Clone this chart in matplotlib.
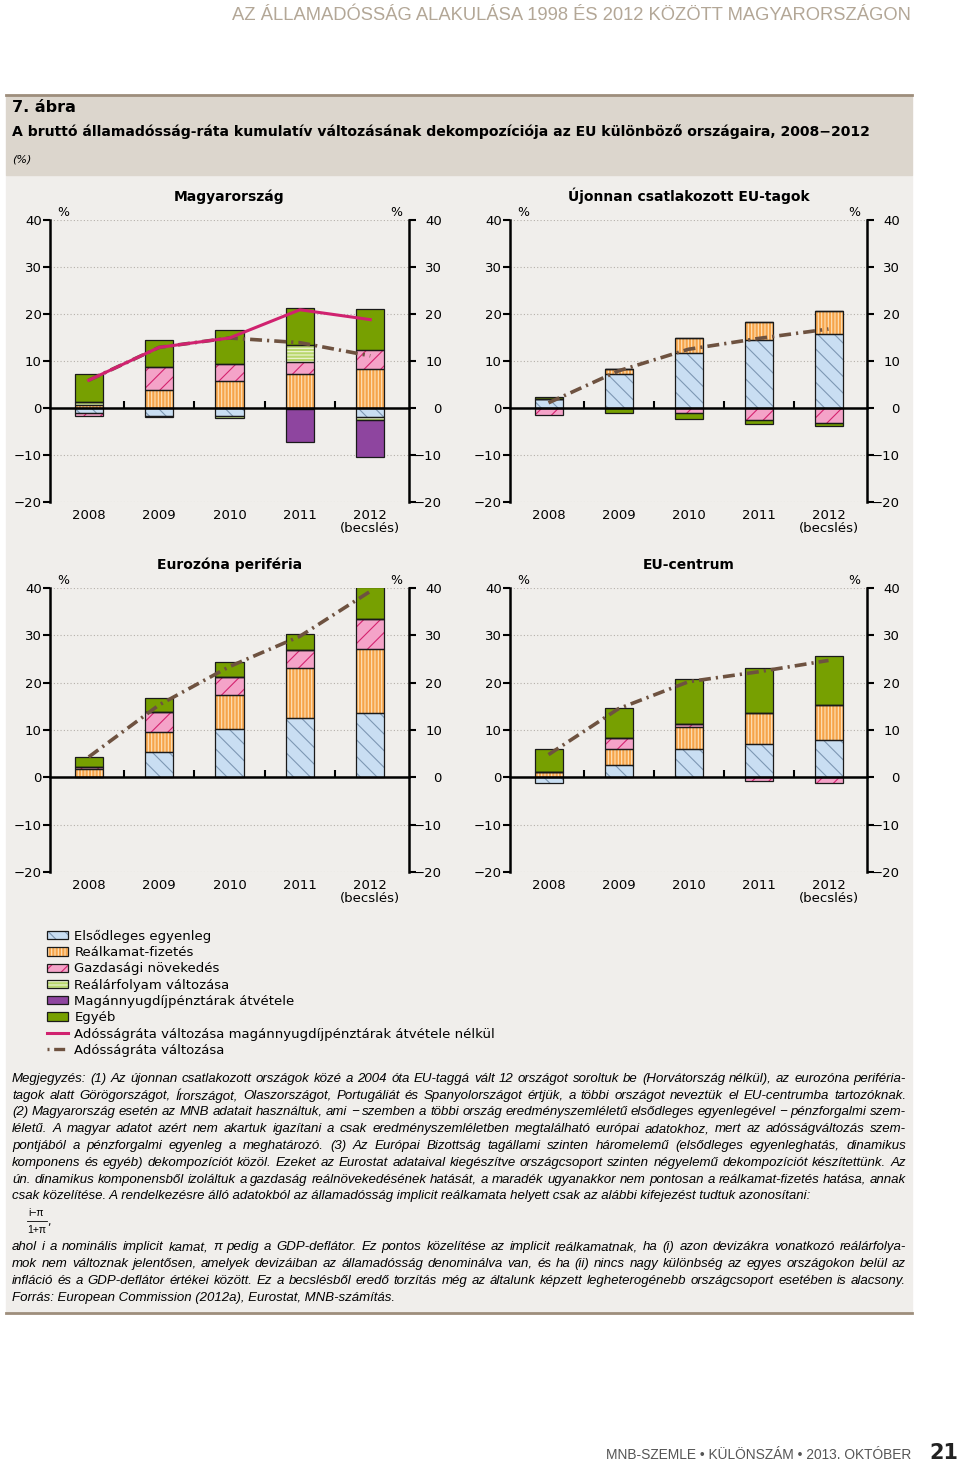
import matplotlib.pyplot as plt
from matplotlib.patches import Rectangle, Patch
from matplotlib.lines import Line2D
from matplotlib.legend_handler import HandlerTuple
from matplotlib.transforms import blended_transform_factory, ScaledTranslation

plt.rcParams['font.family'] = ['DejaVu Sans']
plt.rcParams['hatch.linewidth'] = 0.8

W, H = 960, 1465

years = ['2008', '2009', '2010', '2011', '2012\n(becslés)']

# Magyarország
hu_elsodleges = [-1.0, -1.6, -1.8, -0.3, -1.9]
hu_realkamat = [0.7, 3.9, 5.7, 7.3, 8.4]
hu_novekedes = [-0.6, 4.8, 3.7, 2.4, 3.9]
hu_arfolyam = [0.5, -0.3, -0.3, 3.6, -0.6]
hu_magan = [0.0, 0.0, 0.0, -6.9, -8.0]
hu_egyeb = [6.0, 5.8, 7.2, 7.9, 8.7]
hu_adossag_nelkul = [5.9, 12.9, 14.9, 20.9, 18.8]
hu_adossag = [5.9, 12.9, 14.9, 13.9, 11.1]

# Újonnan csatlakozott EU-tagok
uj_elsodleges = [1.9, 7.3, 11.8, 14.5, 15.7]
uj_realkamat = [0.0, 1.1, 3.1, 3.7, 4.9]
uj_novekedes = [-1.4, 0.0, -1.0, -2.6, -3.1]
uj_arfolyam = [0, 0, 0, 0, 0]
uj_magan = [0, 0, 0, 0, 0]
uj_egyeb = [0.5, -1.1, -1.3, -0.9, -0.8]
uj_adossag = [1.1, 7.9, 12.5, 14.8, 16.8]

# Eurozóna periféria
pe_elsodleges = [0.0, 5.4, 10.2, 12.6, 13.5]
pe_realkamat = [1.8, 4.1, 7.1, 10.4, 13.6]
pe_novekedes = [0.4, 4.2, 3.9, 3.9, 6.3]
pe_arfolyam = [0, 0, 0, 0, 0]
pe_magan = [0, 0, 0, 0, 0]
pe_egyeb = [2.1, 3.1, 3.1, 3.4, 6.9]
pe_adossag = [4.3, 15.3, 23.4, 29.8, 39.3]

# EU-centrum
ce_elsodleges = [-1.3, 2.6, 6.0, 7.1, 7.8]
ce_realkamat = [1.2, 3.4, 4.6, 6.4, 7.4]
ce_novekedes = [0.0, 2.3, 0.7, -0.8, -1.2]
ce_arfolyam = [0, 0, 0, 0, 0]
ce_magan = [0, 0, 0, 0, 0]
ce_egyeb = [4.8, 6.4, 9.4, 9.6, 10.5]
ce_adossag = [4.8, 14.5, 20.2, 22.3, 24.7]

# stilusok: (felirat, kitoltes, vonalkazas szine, vonalkazas)
komponensek = [
    ('Elsődleges egyenleg', '#c9def2', '#7d97b3', '\\\\'),
    ('Reálkamat-fizetés', '#f6a44a', '#fde2bb', '|||||'),
    ('Gazdasági növekedés', '#f4a3c8', '#d4236f', '//'),
    ('Reálárfolyam változása', '#b8d76c', '#f1f6d8', '-----'),
    ('Magánnyugdíjpénztárak átvétele', '#8e459f', None, None),
    ('Egyéb', '#77a001', None, None),
]
magenta = '#d0226f'
barna = '#6e5240'
dashdot = (0, (3.3, 1.4, 0.6, 1.4))

bg = '#f0eeeb'
keskeny = ['Liberation Sans', 'DejaVu Sans']

fig = plt.figure(figsize=(9.6, 14.65), dpi=100)
fig.patch.set_facecolor('white')


def fx(x):
    return x / W


def fy(y):
    return 1 - y / H


# hatter es keret
fig.patches.append(Rectangle((fx(6), fy(1313)), fx(906), (1313 - 175) / H,
                             transform=fig.transFigure, color=bg, zorder=-10))
fig.patches.append(Rectangle((fx(6), fy(175)), fx(906), 80 / H,
                             transform=fig.transFigure, color='#dcd6cd', zorder=-10))
fig.lines.append(Line2D([fx(6), fx(912)], [fy(95), fy(95)], transform=fig.transFigure,
                        color='#9e8e7c', lw=2))
fig.lines.append(Line2D([fx(6), fx(912)], [fy(1313), fy(1313)], transform=fig.transFigure,
                        color='#9e8e7c', lw=2))

fig.text(fx(911), fy(15), 'AZ ÁLLAMADÓSSÁG ALAKULÁSA 1998 ÉS 2012 KÖZÖTT MAGYARORSZÁGON',
         ha='right', va='center', fontsize=13.2, color='#b3a797', family=keskeny)
fig.text(fx(12), fy(108), '7. ábra', ha='left', va='center', fontsize=11.5, fontweight='bold')
fig.text(fx(12), fy(132), 'A bruttó államadósság-ráta kumulatív változásának dekompozíciója az EU különböző országaira, 2008−2012',
         ha='left', va='center', fontsize=10.05, fontweight='bold')
fig.text(fx(12), fy(160), '(%)', ha='left', va='center', fontsize=8, style='italic')


def panel(rect, cim, ertekek, vonal, vonal2=None):
    ax = fig.add_axes(rect)
    ax.set_facecolor(bg)
    x = range(5)
    pos = [0.0] * 5
    neg = [0.0] * 5
    for (nev, szin, hszin, hatch), vals in zip(komponensek, ertekek):
        bottoms = []
        for i, v in enumerate(vals):
            if v >= 0:
                bottoms.append(pos[i])
                pos[i] += v
            else:
                bottoms.append(neg[i])
                neg[i] += v
        if hatch:
            ax.bar(x, vals, 0.4, bottom=bottoms, color=szin, edgecolor=hszin,
                   hatch=hatch, linewidth=0, zorder=3)
        else:
            ax.bar(x, vals, 0.4, bottom=bottoms, color=szin, linewidth=0, zorder=3)
        ax.bar(x, vals, 0.4, bottom=bottoms, facecolor='none', edgecolor='#1a1a1a',
               linewidth=0.9, zorder=4)
    ax.plot(x, vonal, color=barna, lw=2.6, linestyle=dashdot, zorder=5)
    if vonal2 is not None:
        ax.plot(x, vonal2, color=magenta, lw=2.2, zorder=6)

    ax.set_xlim(-0.55, 4.55)
    ax.set_ylim(-20, 40)
    ax.set_yticks(range(-20, 41, 10))
    ax.grid(axis='y', color='#b5b0aa', linestyle=(0, (1, 2)), lw=0.8, zorder=0)
    ax.spines['top'].set_visible(False)
    ax.spines['bottom'].set_position(('data', 0))
    ax.spines['bottom'].set_linewidth(1.8)
    ax.spines['bottom'].set_zorder(7)
    ax.spines['left'].set_linewidth(1.8)
    ax.spines['right'].set_linewidth(1.8)
    ax.set_xticks([0.5, 1.5, 2.5, 3.5])
    ax.set_xticklabels([])
    ax.tick_params(axis='x', direction='in', length=5, width=1.5)
    ax.tick_params(axis='y', direction='out', length=5, width=1.5, labelsize=9.5,
                   right=True, labelright=True, pad=1)
    # jobb oldali feliratok jobbra igazitva
    off = ScaledTranslation(33 / 100, 0, fig.dpi_scale_trans)
    for t in ax.yaxis.get_major_ticks():
        t.label2.set_horizontalalignment('right')
        t.label2.set_transform(ax.get_yaxis_transform(which='tick2') + off)

    tr = blended_transform_factory(ax.transData, ax.transAxes)
    for i, ev in enumerate(years):
        ax.text(i, -0.025, ev, transform=tr, ha='center', va='top', fontsize=9.5,
                linespacing=0.95)
    ax.text(0.02, 1.005, '%', transform=ax.transAxes, ha='left', va='bottom', fontsize=9)
    ax.text(0.98, 1.005, '%', transform=ax.transAxes, ha='right', va='bottom', fontsize=9)
    ax.set_title(cim, fontsize=10, fontweight='bold', pad=14)
    return ax


top1, bot1 = 220, 502
top2, bot2 = 588, 872
r1 = [fx(50), fy(bot1), (409 - 50) / W, (bot1 - top1) / H]
r2 = [fx(510), fy(bot1), (867 - 510) / W, (bot1 - top1) / H]
r3 = [fx(50), fy(bot2), (409 - 50) / W, (bot2 - top2) / H]
r4 = [fx(510), fy(bot2), (867 - 510) / W, (bot2 - top2) / H]

panel(r1, 'Magyarország',
      [hu_elsodleges, hu_realkamat, hu_novekedes, hu_arfolyam, hu_magan, hu_egyeb],
      hu_adossag, hu_adossag_nelkul)
panel(r2, 'Újonnan csatlakozott EU-tagok',
      [uj_elsodleges, uj_realkamat, uj_novekedes, uj_arfolyam, uj_magan, uj_egyeb],
      uj_adossag)
panel(r3, 'Eurozóna periféria',
      [pe_elsodleges, pe_realkamat, pe_novekedes, pe_arfolyam, pe_magan, pe_egyeb],
      pe_adossag)
panel(r4, 'EU-centrum',
      [ce_elsodleges, ce_realkamat, ce_novekedes, ce_arfolyam, ce_magan, ce_egyeb],
      ce_adossag)

# jelmagyarazat
handles = []
labels = []
for nev, szin, hszin, hatch in komponensek:
    if hatch:
        h = (Patch(facecolor=szin, edgecolor=hszin, hatch=hatch, linewidth=0),
             Patch(facecolor='none', edgecolor='#1a1a1a', linewidth=0.9))
    else:
        h = (Patch(facecolor=szin, linewidth=0),
             Patch(facecolor='none', edgecolor='#1a1a1a', linewidth=0.9))
    handles.append(h)
    labels.append(nev)
handles.append(Line2D([], [], color=magenta, lw=2.2))
labels.append('Adósságráta változása magánnyugdíjpénztárak átvétele nélkül')
handles.append(Line2D([], [], color=barna, lw=2.4, linestyle=(0, (0.6, 1.4, 3.3, 1.4))))
labels.append('Adósságráta változása')
fig.legend(handles, labels, loc='upper left', bbox_to_anchor=(fx(40), fy(923)),
           frameon=False, fontsize=9.5, handlelength=1.6, handleheight=0.6,
           handletextpad=0.5, labelspacing=0.25, borderpad=0,
           handler_map={tuple: HandlerTuple(ndivide=1)})

# megjegyzes (sorkizart)
jegyzet = [
    (1079, True, 'Megjegyzés: (1) Az újonnan csatlakozott országok közé a 2004 óta EU-taggá vált 12 országot soroltuk be (Horvátország nélkül), az eurozóna periféria-'),
    (1096, True, 'tagok alatt Görögországot, Írországot, Olaszországot, Portugáliát és Spanyolországot értjük, a többi országot neveztük el EU-centrumba tartozóknak.'),
    (1112, True, '(2) Magyarország esetén az MNB adatait használtuk, ami − szemben a többi ország eredményszemléletű elsődleges egyenlegével − pénzforgalmi szem-'),
    (1129, True, 'léletű. A magyar adatot azért nem akartuk igazítani a csak eredményszemléletben megtalálható európai adatokhoz, mert az adósságváltozás szem-'),
    (1146, True, 'pontjából a pénzforgalmi egyenleg a meghatározó. (3) Az Európai Bizottság tagállami szinten háromelemű (elsődleges egyenleghatás, dinamikus'),
    (1163, True, 'komponens és egyéb) dekompozíciót közöl. Ezeket az Eurostat adataival kiegészítve országcsoport szinten négyelemű dekompozíciót készítettünk. Az'),
    (1180, True, 'ún. dinamikus komponensből izoláltuk a gazdaság reálnövekedésének hatását, a maradék ugyanakkor nem pontosan a reálkamat-fizetés hatása, annak'),
    (1196, False, 'csak közelítése. A rendelkezésre álló adatokból az államadósság implicit reálkamata helyett csak az alábbi kifejezést tudtuk azonosítani:'),
    (1247, True, 'ahol i a nominális implicit kamat, π pedig a GDP-deflátor. Ez pontos közelítése az implicit reálkamatnak, ha (i) azon devizákra vonatkozó reálárfolya-'),
    (1264, True, 'mok nem változnak jelentősen, amelyek devizáiban az államadósság denominálva van, és ha (ii) nincs nagy különbség az egyes országokon belül az'),
    (1281, True, 'infláció és a GDP-deflátor értékei között. Ez a becslésből eredő torzítás még az általunk képzett legheterogénebb országcsoport esetében is alacsony.'),
    (1298, False, 'Forrás: European Commission (2012a), Eurostat, MNB-számítás.'),
]
jkw = dict(fontsize=9.5, style='italic', family=keskeny, va='center', ha='left')
renderer = fig.canvas.get_renderer()
bal, jobb = 12, 906
for y, sorkizart, sor in jegyzet:
    if not sorkizart:
        fig.text(fx(bal), fy(y), sor, **jkw)
        continue
    szavak = sor.split(' ')
    szelesseg = []
    for sz in szavak:
        t = fig.text(0, 0, sz, **jkw)
        szelesseg.append(t.get_window_extent(renderer).width)
        t.remove()
    hezag = (jobb - bal - sum(szelesseg)) / (len(szavak) - 1)
    xp = bal
    for sz, w in zip(szavak, szelesseg):
        fig.text(fx(xp), fy(y), sz, **jkw)
        xp += w + hezag

fig.text(fx(28), fy(1213), 'i−π', ha='left', va='center', fontsize=7.5, family=keskeny)
fig.lines.append(Line2D([fx(27), fx(47)], [fy(1221), fy(1221)], transform=fig.transFigure,
                        color='black', lw=0.6))
fig.text(fx(47), fy(1222), ',', ha='left', va='center', fontsize=8)
fig.text(fx(27), fy(1230), '1+π', ha='left', va='center', fontsize=7.5, family=keskeny)

# lablec
fig.text(fx(911), fy(1455), 'MNB-SZEMLE • KÜLÖNSZÁM • 2013. OKTÓBER', ha='right', va='center',
         fontsize=9.9, color='#555555', family=keskeny)
fig.text(fx(958), fy(1453), '21', ha='right', va='center', fontsize=15, fontweight='bold',
         color='#222222')

fig.savefig('out.png', dpi=100, facecolor='white')
